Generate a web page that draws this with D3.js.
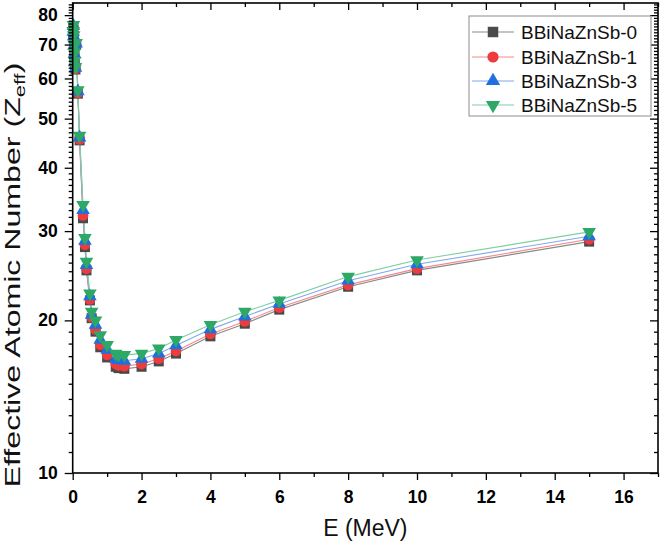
<!DOCTYPE html>
<html><head><meta charset="utf-8">
<script src="https://cdn.jsdelivr.net/npm/d3@7/dist/d3.min.js"></script>
<style>body{margin:0;background:#fff}svg{display:block}text{font-family:"Liberation Sans",Arial,sans-serif}</style>
</head><body><svg id="c" width="661" height="548"></svg>
<script>
// ---- data ----
const energy = [0.015,0.02,0.03,0.04,0.05,0.06,0.08,0.1,0.15,0.2,0.3,0.356,0.4,0.5,0.55,0.662,0.8,1,1.25,1.33,1.5,2,2.5,3,4,5,6,8,10,15];
const zS0 = [73.5,75.5,72.0,69.0,66.5,64.0,62.5,70.0,56.0,45.3,31.8,27.9,25.1,21.9,20.2,19.0,17.7,16.9,16.2,16.1,16.05,16.2,16.6,17.2,18.6,19.7,21.0,23.3,25.1,28.6];
const zS1 = [73.8,75.8,72.3,69.3,66.8,64.3,62.7,70.1,56.2,45.5,32.2,28.2,25.3,22.0,20.3,19.2,17.9,17.1,16.4,16.3,16.25,16.4,16.8,17.4,18.8,19.9,21.2,23.5,25.3,28.9];
const zS3 = [74.2,76.2,72.7,69.6,67.1,64.6,63.0,70.3,56.6,45.9,33.0,28.7,25.7,22.3,20.5,19.6,18.3,17.5,16.8,16.7,16.65,16.8,17.2,17.85,19.2,20.35,21.55,23.95,25.8,29.3];
const zS5 = [74.5,76.5,73.0,70.0,67.5,65.0,63.2,70.5,56.9,46.3,33.8,29.1,26.1,22.6,20.8,20.0,18.7,17.9,17.2,17.1,17.1,17.2,17.6,18.3,19.6,20.8,21.9,24.4,26.3,29.9];
const seriesNames = ["BBiNaZnSb-0","BBiNaZnSb-1","BBiNaZnSb-3","BBiNaZnSb-5"];
const xTickValues = [0,2,4,6,8,10,12,14,16];
const yTickValues = [10,20,30,40,50,60,70,80];
const xLabel = "E (MeV)";
const yLabelMain = "Effective Atomic Number (Z";
const yLabelSub = "eff";

// ---- styles ----
const markerColors = ["#4a4a4a","#ee3b3b","#1f6fe0","#2ea866"];
const lineColors = ["#8a8a8a","#f28a8a","#7fa8ee","#7fcfa0"];
const shapes = [d3.symbolSquare, d3.symbolCircle, d3.symbolTriangle, d3.symbolTriangle];
const shapeSizes = [100, 90, 80, 80];
const rotations = [0,0,0,180];

const svg = d3.select("#c");
const L = 72.7, R = 658, T = 3, B = 473;
const x = d3.scaleLinear().domain([0,17]).range([L,R]);
const yTopVal = Math.pow(10, 1 + (B - T)/507);
const y = d3.scaleLog().domain([10, yTopVal]).range([B,T]);

const xMinor = d3.range(0,17.01,1);
const yMinor = d3.range(10, Math.floor(yTopVal)+1, 1);

const series = [zS0,zS1,zS3,zS5];

// lines
const line = d3.line().x(d=>x(d[0])).y(d=>y(d[1]));
series.forEach((s,i)=>{
  svg.append("path").datum(energy.map((e,j)=>[e,s[j]]))
    .attr("d",line).attr("fill","none").attr("stroke",lineColors[i]).attr("stroke-width",1.1);
});
// markers
series.forEach((s,i)=>{
  const sym = d3.symbol().type(shapes[i]).size(shapeSizes[i]);
  svg.append("g").selectAll("path").data(energy.map((e,j)=>[e,s[j]])).join("path")
    .attr("d",sym)
    .attr("transform",d=>`translate(${x(d[0])},${y(d[1])}) rotate(${rotations[i]})`)
    .attr("fill",markerColors[i]);
});

// bottom
svg.append("g").attr("transform",`translate(0,${B})`)
  .call(d3.axisBottom(x).tickValues(xTickValues).tickSize(7).tickPadding(11).tickFormat(d3.format("d")));
svg.append("g").attr("transform",`translate(0,${B})`)
  .call(d3.axisBottom(x).tickValues(xMinor.filter(v=>v%2!==0)).tickSize(4).tickFormat(""));
// top
svg.append("g").attr("transform",`translate(0,${T})`)
  .call(d3.axisBottom(x).tickValues(xTickValues).tickSize(7).tickFormat(""));
svg.append("g").attr("transform",`translate(0,${T})`)
  .call(d3.axisBottom(x).tickValues(xMinor.filter(v=>v%2!==0)).tickSize(4).tickFormat(""));
// left
svg.append("g").attr("transform",`translate(${L},0)`)
  .call(d3.axisLeft(y).tickValues(yTickValues).tickSize(8).tickPadding(7).tickFormat(d3.format("d")));
svg.append("g").attr("transform",`translate(${L},0)`)
  .call(d3.axisLeft(y).tickValues(yMinor.filter(v=>v%10!==0)).tickSize(4).tickFormat(""));
// right
svg.append("g").attr("transform",`translate(${R},0)`)
  .call(d3.axisLeft(y).tickValues(yTickValues).tickSize(8).tickFormat(""));
svg.append("g").attr("transform",`translate(${R},0)`)
  .call(d3.axisLeft(y).tickValues(yMinor.filter(v=>v%10!==0)).tickSize(4).tickFormat(""));
svg.selectAll(".domain").remove();
svg.selectAll(".tick line").attr("stroke","#000").attr("stroke-width",1.3);
svg.selectAll(".tick text").attr("font-family","'Liberation Sans',Arial,sans-serif").attr("font-size",17.5).attr("font-weight","bold").attr("fill","#000");
// frame
svg.append("rect").attr("x",L).attr("y",T).attr("width",R-L).attr("height",B-T)
  .attr("fill","none").attr("stroke","#000").attr("stroke-width",1.6);

// axis titles
svg.append("text").attr("x",(L+R)/2).attr("y",536).attr("text-anchor","middle")
  .attr("font-size",23).attr("fill","#111").text(xLabel);
const yt = svg.append("text").attr("text-anchor","middle").attr("font-size",22).attr("fill","#111");
yt.append("tspan").text(yLabelMain);
yt.append("tspan").attr("font-size",15).attr("dy",5).text(yLabelSub);
yt.append("tspan").attr("dy",-5).text(")");
const len = yt.node().getComputedTextLength();
const sx = 425/len;
yt.attr("transform",`translate(19.5,275) rotate(-90) scale(${sx},1)`);

// legend
const lg = svg.append("g");
lg.append("rect").attr("x",469).attr("y",16).attr("width",182).attr("height",100)
  .attr("fill","#fff").attr("stroke","#8c8c8c").attr("stroke-width",1);
const ly = [32,57,81,105];
seriesNames.forEach((n,i)=>{
  lg.append("line").attr("x1",472).attr("x2",514).attr("y1",ly[i]).attr("y2",ly[i])
    .attr("stroke",lineColors[i]).attr("stroke-width",1.2);
  lg.append("path").attr("d",d3.symbol().type(shapes[i]).size(shapeSizes[i]*1.1)())
    .attr("transform",`translate(493,${ly[i]}) rotate(${rotations[i]})`).attr("fill",markerColors[i]);
  lg.append("text").attr("x",521).attr("y",ly[i]+7).attr("font-size",19).attr("fill","#111").text(n);
});
</script></body></html>
